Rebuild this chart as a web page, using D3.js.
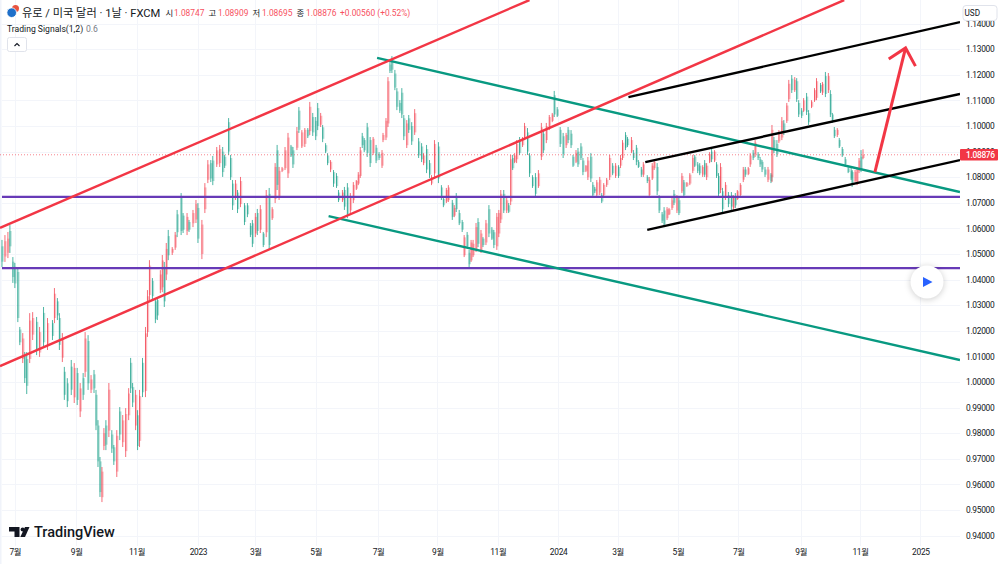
<!DOCTYPE html>
<html>
    <head>
        <title>EUR/USD 1D</title>
        <script src="https://d3js.org/d3.v7.min.js"></script>
        <style>
            * {
                font-family: 'Roboto', 'Noto Sans CJK KR', sans-serif;
            }
            body {
                margin: 0;
                overflow: hidden;
                background: #ffffff;
            }
            svg {
                display: block;
            }
            .axis path,
            .axis line {
                display: none;
            }
            .axis text {
                fill: #131722;
                font-size: 8.4px;
                letter-spacing: -0.3px;
            }
        </style>
    </head>
    <body>
        <script>
            // days since 2022-06-16, one entry per candle
            const barDays = [
                2,5,8,10,13,15,18,20,23,25,
                27,30,33,37,40,44,48,53,55,58,
                60,63,65,68,72,75,78,81,84,86,
                89,92,95,97,99,101,103,105,107,110,
                113,115,118,121,124,127,130,132,134,137,
                139,141,144,147,149,151,154,157,159,162,
                164,166,168,170,174,177,179,183,185,189,
                191,195,198,200,204,207,210,213,215,219,
                222,225,227,231,233,235,238,240,243,247,
                250,253,255,258,260,263,266,269,272,275,
                278,280,282,285,288,291,294,296,300,302,
                305,308,311,313,316,319,321,324,326,329,
                331,334,337,340,342,346,348,351,354,357,
                360,362,364,366,368,371,374,377,380,383,
                386,387,390,392,394,396,399,401,404,406,
                408,411,413,416,419,423,426,428,431,434,
                436,439,443,446,448,451,453,457,459,461,
                464,467,469,472,474,476,478,481,483,486,
                488,491,494,497,499,502,504,506,509,512,
                514,516,518,520,522,525,528,530,533,535,
                538,541,544,547,549,552,555,558,560,563,
                566,569,572,574,577,579,582,584,587,589,
                592,594,597,599,601,603,606,608,610,613,
                616,619,622,625,627,629,632,634,638,640,
                643,645,648,650,654,656,659,661,664,666,
                669,671,674,676,679,681,684,686,689,691,
                694,697,700,702,705,707,710,712,714,717,
                719,722,724,726,728,730,733,736,739,741,
                743,745,748,751,753,756,758,761,763,766,
                768,770,773,776,779,780,782,785,787,790,
                792,795,797,800,803,805,807,810,812,815,
                817,820,823,825,829,831,834,837,839,841,
                843,846,848,851,854,857,860,861,864,866,
                868,870,872
            ];
            // prices in pips (1.0555 = 10555)
            const highs = [
                10555,10574,10586,10613,10488,10465,10445,10215,10191,10117,
                10117,10269,10273,10254,10215,10293,10250,10242,10367,10328,
                10269,10191,10059,10015,10086,10074,10055,9996,10035,10195,
                10183,10027,10047,9969,9851,9707,9668,9820,9851,9996,
                9812,9754,9812,9902,9871,9898,9976,10094,9996,9969,
                9890,9969,10094,10215,10359,10476,10406,10328,10332,10437,
                10496,10469,10543,10594,10527,10586,10672,10738,10660,10660,
                10633,10672,10711,10699,10633,10777,10867,10867,10883,10918,
                10926,10918,10887,11031,10887,10789,10789,10750,10801,10699,
                10699,10621,10633,10660,10676,10691,10586,10750,10758,10683,
                10855,10926,10840,10840,10918,10973,10926,10918,10996,11074,
                10984,10992,10992,11094,11051,11035,11090,11051,11004,10933,
                10894,10867,10828,10816,10750,10750,10762,10777,10738,10781,
                10789,10820,10918,10973,10953,11012,10957,10957,10926,10898,
                10906,10973,11031,11191,11250,11273,11219,11148,11101,11148,
                11043,11023,11043,11015,11066,10953,10933,10894,10926,10867,
                10808,10945,10937,10769,10722,10758,10769,10711,10691,10738,
                10672,10633,10574,10586,10516,10555,10555,10621,10640,10594,
                10566,10633,10691,10605,10594,10660,10672,10750,10750,10722,
                10699,10887,10887,10894,10945,10957,10957,11012,10992,10894,
                10808,10816,10828,11012,10984,11012,11043,11051,11137,11074,
                10996,10973,10973,10996,10984,10887,10906,10914,10933,10875,
                10847,10879,10894,10781,10762,10789,10801,10738,10777,10797,
                10887,10855,10855,10847,10887,10945,10976,10957,10957,10906,
                10926,10867,10840,10859,10808,10801,10855,10867,10855,10730,
                10664,10683,10683,10680,10722,10750,10730,10722,10816,10789,
                10781,10816,10887,10887,10859,10855,10847,10867,10855,10898,
                10914,10906,10859,10816,10855,10758,10781,10742,10742,10730,
                10738,10750,10777,10840,10840,10840,10894,10906,10945,10898,
                10879,10867,10840,10840,10816,11004,10957,10945,10984,11035,
                11023,11090,11180,11199,11191,11187,11101,11070,11109,11129,
                11062,11101,11148,11187,11168,11172,11211,11207,11140,11051,
                10996,10992,10953,10918,10879,10840,10836,10828,10828,10840,
                10875,10906,10909
            ];
            const lows = [
                10449,10469,10484,10504,10387,10367,10234,10144,10074,9996,
                9953,10074,10164,10105,10098,10133,10125,10164,10230,10242,
                10125,10078,9930,9902,9949,9918,9910,9863,9930,10019,
                9969,9957,9957,9812,9668,9551,9531,9734,9734,9785,
                9723,9676,9629,9773,9746,9707,9851,9957,9902,9812,
                9734,9746,9941,9941,10176,10320,10320,10230,10242,10347,
                10351,10293,10398,10476,10496,10516,10566,10574,10582,10574,
                10586,10605,10621,10543,10480,10660,10777,10781,10769,10840,
                10840,10801,10836,10887,10789,10672,10711,10660,10683,10613,
                10644,10566,10527,10566,10574,10582,10527,10566,10516,10633,
                10699,10750,10711,10820,10828,10797,10879,10836,10906,10973,
                10914,10918,10953,10965,10961,10945,10984,10996,10937,10894,
                10847,10820,10762,10758,10703,10703,10672,10640,10660,10699,
                10750,10769,10797,10914,10898,10879,10840,10887,10855,10867,
                10836,10937,10945,10996,11207,11207,11140,11062,11051,11031,
                10945,10914,10973,10926,10965,10875,10859,10847,10816,10797,
                10769,10797,10777,10711,10683,10699,10703,10633,10644,10664,
                10613,10586,10488,10523,10449,10469,10488,10508,10527,10504,
                10527,10535,10566,10555,10523,10516,10566,10621,10660,10660,
                10660,10691,10828,10855,10855,10887,10918,10945,10887,10801,
                10758,10722,10758,10867,10894,10933,10984,11015,11035,11035,
                10918,10875,10914,10933,10914,10840,10855,10840,10867,10808,
                10820,10789,10781,10722,10738,10722,10730,10699,10722,10762,
                10789,10808,10797,10797,10836,10867,10906,10918,10894,10867,
                10847,10836,10801,10801,10777,10722,10789,10828,10730,10660,
                10621,10605,10633,10652,10672,10691,10660,10652,10738,10722,
                10762,10769,10816,10840,10816,10808,10801,10801,10789,10855,
                10859,10859,10797,10722,10738,10664,10711,10683,10672,10672,
                10680,10711,10722,10781,10801,10808,10840,10867,10879,10867,
                10840,10820,10801,10781,10777,10781,10894,10879,10933,10945,
                10965,11012,11094,11129,11133,11094,11035,11031,11055,11043,
                11004,11070,11094,11101,11129,11121,11113,11129,11035,11012,
                10953,10957,10914,10879,10840,10816,10789,10762,10781,10769,
                10816,10820,10870
            ];
            const opens = [
                10530,10490,10505,10590,10470,10450,10430,10205,10090,10100,
                10090,10090,10185,10235,10115,10270,10145,10230,10250,10315,
                10250,10095,10040,9995,10060,9940,10035,9885,10015,10040,
                10160,9970,10030,9950,9830,9690,9550,9750,9830,9810,
                9795,9745,9650,9885,9765,9730,9870,10075,9980,9830,
                9870,9770,10075,9965,10195,10340,10395,10315,10320,10360,
                10370,10450,10420,10570,10505,10525,10655,10725,10650,10590,
                10625,10620,10635,10680,10500,10675,10790,10855,10865,10850,
                10855,10900,10880,11015,10875,10775,10720,10740,10695,10690,
                10690,10610,10620,10580,10660,10595,10580,10585,10735,10640,
                10715,10905,10725,10825,10835,10815,10920,10905,10915,11060,
                10920,10930,10985,10980,11035,11020,11070,11005,10995,10925,
                10885,10830,10820,10805,10740,10710,10750,10760,10670,10710,
                10755,10775,10805,10960,10945,10995,10945,10895,10915,10890,
                10845,10945,10955,11010,11240,11255,11205,11135,11090,11130,
                11030,10925,11030,11000,10975,10940,10920,10855,10910,10855,
                10775,10815,10920,10760,10715,10705,10710,10700,10650,10725,
                10660,10625,10495,10575,10505,10475,10495,10520,10625,10515,
                10560,10545,10675,10595,10585,10530,10580,10635,10735,10670,
                10690,10705,10875,10860,10870,10945,10925,10955,10975,10885,
                10800,10800,10765,10880,10970,10945,10990,11020,11120,11065,
                10985,10960,10925,10985,10970,10880,10860,10900,10920,10865,
                10825,10800,10880,10770,10755,10730,10740,10730,10730,10770,
                10800,10845,10805,10840,10845,10875,10965,10950,10900,10895,
                10915,10860,10830,10810,10800,10730,10795,10835,10840,10720,
                10655,10670,10640,10655,10680,10735,10670,10710,10745,10780,
                10765,10775,10825,10880,10850,10845,10810,10855,10800,10860,
                10900,10865,10850,10805,10750,10745,10720,10730,10730,10680,
                10725,10715,10730,10790,10830,10812,10850,10895,10890,10890,
                10870,10860,10830,10790,10810,10800,10945,10930,10940,10955,
                11010,11020,11105,11185,11140,11175,11090,11060,11060,11115,
                11050,11075,11100,11110,11160,11130,11195,11140,11125,11045,
                10985,10965,10945,10910,10870,10835,10825,10820,10785,10775,
                10825,10880,10875
            ];
            const closes = [
                10470,10550,10560,10530,10410,10385,10250,10155,10170,10015,
                9985,10240,10250,10125,10195,10155,10230,10180,10345,10260,
                10145,10170,9950,9925,9970,10055,9930,9975,9950,10170,
                9995,10010,9975,9830,9690,9570,9650,9800,9755,9970,
                9740,9690,9790,9795,9850,9875,9955,9975,9920,9950,
                9750,9945,9960,10190,10335,10455,10335,10245,10260,10420,
                10475,10315,10520,10495,10520,10575,10585,10590,10595,10645,
                10595,10660,10695,10560,10615,10760,10850,10795,10785,10905,
                10910,10820,10845,10900,10800,10690,10775,10675,10785,10625,
                10655,10575,10540,10645,10590,10675,10535,10730,10535,10675,
                10840,10770,10825,10835,10905,10955,10885,10850,10980,10985,
                10975,10985,10960,11075,10975,10960,11000,11040,10950,10900,
                10855,10860,10775,10765,10710,10740,10685,10655,10725,10770,
                10785,10810,10905,10925,10905,10895,10855,10950,10865,10875,
                10895,10965,11020,11175,11215,11220,11150,11075,11060,11045,
                10960,11010,10985,10940,11050,10885,10870,10885,10830,10810,
                10800,10930,10795,10720,10690,10750,10760,10645,10680,10675,
                10620,10595,10565,10530,10460,10545,10540,10605,10540,10580,
                10535,10620,10580,10560,10535,10645,10660,10735,10670,10710,
                10665,10870,10835,10885,10930,10895,10950,11000,10900,10815,
                10765,10735,10815,10995,10905,11000,11035,11045,11045,11040,
                10930,10890,10965,10945,10925,10845,10895,10850,10875,10820,
                10845,10865,10795,10730,10745,10780,10790,10705,10770,10790,
                10875,10815,10845,10805,10875,10935,10915,10925,10945,10875,
                10860,10840,10810,10850,10785,10790,10845,10860,10745,10670,
                10630,10615,10675,10675,10710,10700,10720,10660,10805,10730,
                10778,10810,10875,10845,10825,10815,10840,10810,10845,10890,
                10870,10900,10805,10735,10840,10675,10770,10695,10685,10720,
                10690,10745,10770,10830,10810,10835,10885,10875,10935,10875,
                10850,10830,10810,10830,10785,10985,10905,10890,10975,11020,
                10975,11080,11165,11140,11180,11105,11045,11040,11100,11055,
                11015,11095,11140,11175,11135,11165,11125,11195,11045,11020,
                10960,10985,10920,10885,10850,10820,10795,10770,10820,10830,
                10865,10830,10888
            ];

            // drawings: [startDay, startPrice, endDay, endPrice]
            const redChannel = [
                [0, 1.0602, 535, 1.1492],
                [0, 1.0062, 853, 1.1492],
            ];
            const greenChannel = [
                [381, 1.1266, 970, 1.0742],
                [332, 1.0648, 970, 1.0086],
            ];
            const blackChannel = [
                [635, 1.1113, 970, 1.1406],
                [652, 1.0859, 970, 1.1125],
                [654, 1.0594, 970, 1.0867],
            ];
            const purpleLevels = [
                [2, 1.0723, 970, 1.0723],
                [2, 1.0445, 970, 1.0445],
            ];
            const arrowPoints = [
                [898, 1.1262],
                [915, 1.1305],
                [925, 1.1234],
            ];
            const arrowTail = [884, 1.082];

            const priceTicks = [
                0.94, 0.95, 0.96, 0.97, 0.98, 0.99, 1.0, 1.01, 1.02, 1.03, 1.04, 1.05, 1.06, 1.07, 1.08, 1.09, 1.1, 1.11, 1.12, 1.13, 1.14,
            ];
            const timeTicks = [
                new Date(2022, 6, 1),
                new Date(2022, 8, 1),
                new Date(2022, 10, 1),
                new Date(2023, 0, 2),
                new Date(2023, 2, 1),
                new Date(2023, 4, 1),
                new Date(2023, 6, 3),
                new Date(2023, 8, 1),
                new Date(2023, 10, 1),
                new Date(2024, 0, 1),
                new Date(2024, 2, 1),
                new Date(2024, 4, 1),
                new Date(2024, 6, 1),
                new Date(2024, 8, 2),
                new Date(2024, 10, 1),
                new Date(2025, 0, 1),
            ];
            const timeLabels = ['7월', '9월', '11월', '2023', '3월', '5월', '7월', '9월', '11월', '2024', '3월', '5월', '7월', '9월', '11월', '2025'];
            const lastPrice = 1.08876;

            const upColor = '#f23645';
            const downColor = '#089981';
            const startDate = new Date(2022, 5, 16);
            const plotRight = 960;
            const plotBottom = 546;

            const dayToDate = (d) => d3.timeDay.offset(startDate, d);
            const x = d3.scaleTime().domain([startDate, dayToDate(970)]).range([0, plotRight]);
            const y = d3.scaleLinear().domain([0.94, 1.14]).range([535.6, 23.6]);
            const xd = (d) => x(dayToDate(d));

            const bars = barDays.map((day, i) => ({
                day,
                high: highs[i] / 10000,
                low: lows[i] / 10000,
                open: opens[i] / 10000,
                close: closes[i] / 10000,
            }));

            const svg = d3.select('body').append('svg').attr('width', 1000).attr('height', 564);
            svg.append('defs').append('clipPath').attr('id', 'plot').append('rect').attr('width', plotRight).attr('height', plotBottom);

            svg.append('rect').attr('width', 1.5).attr('height', 564).attr('fill', '#f0f3fa');

            // grid
            const grid = svg.append('g').attr('stroke', '#f3f5fa').attr('stroke-width', 1);
            grid.selectAll('.h')
                .data(priceTicks)
                .enter()
                .append('line')
                .attr('x1', 2)
                .attr('x2', plotRight)
                .attr('y1', (d) => Math.round(y(d)) + 0.5)
                .attr('y2', (d) => Math.round(y(d)) + 0.5);
            grid.selectAll('.v')
                .data(timeTicks)
                .enter()
                .append('line')
                .attr('x1', (d) => Math.round(x(d)) + 0.5)
                .attr('x2', (d) => Math.round(x(d)) + 0.5)
                .attr('y1', 0)
                .attr('y2', plotBottom);

            const plot = svg.append('g').attr('clip-path', 'url(#plot)');

            // candles
            const candle = plot.selectAll('.candle').data(bars).enter().append('g').attr('class', 'candle');
            const barColor = (d) => (d.close >= d.open ? upColor : downColor);
            candle
                .append('rect')
                .attr('x', (d) => xd(d.day) - 0.5)
                .attr('width', 2.2)
                .attr('y', (d) => y(Math.max(d.open, d.close)))
                .attr('height', (d) => Math.max(1, Math.abs(y(d.open) - y(d.close))))
                .attr('fill', barColor)
                .attr('opacity', 0.32);
            candle
                .append('line')
                .attr('x1', (d) => xd(d.day))
                .attr('x2', (d) => xd(d.day))
                .attr('y1', (d) => y(d.high))
                .attr('y2', (d) => y(d.low))
                .attr('stroke', barColor)
                .attr('stroke-width', 1)
                .attr('opacity', 0.72);

            // last price line
            plot.append('line')
                .attr('x1', 0)
                .attr('x2', plotRight)
                .attr('y1', y(lastPrice))
                .attr('y2', y(lastPrice))
                .attr('stroke', upColor)
                .attr('stroke-width', 1)
                .attr('stroke-dasharray', '1 2')
                .attr('opacity', 0.6);

            // drawings
            function drawSegments(data, color) {
                plot.selectAll(null)
                    .data(data)
                    .enter()
                    .append('line')
                    .attr('x1', (d) => xd(d[0]))
                    .attr('y1', (d) => y(d[1]))
                    .attr('x2', (d) => xd(d[2]))
                    .attr('y2', (d) => y(d[3]))
                    .attr('stroke', color)
                    .attr('stroke-width', 2.4);
            }
            drawSegments(purpleLevels, '#673ab7');
            drawSegments(greenChannel, '#089981');
            drawSegments(redChannel, '#f23645');
            drawSegments(blackChannel, '#000000');

            const arrowLine = d3
                .line()
                .x((d) => xd(d[0]))
                .y((d) => y(d[1]));
            plot.append('path')
                .attr('d', arrowLine([arrowTail, arrowPoints[1]]))
                .attr('fill', 'none')
                .attr('stroke', '#f23645')
                .attr('stroke-width', 3);
            plot.append('path')
                .attr('d', arrowLine(arrowPoints))
                .attr('fill', 'none')
                .attr('stroke', '#f23645')
                .attr('stroke-width', 3);

            // axes
            svg.append('rect').attr('x', plotRight).attr('width', 40).attr('height', 564).attr('fill', '#ffffff');
            svg.append('g')
                .attr('class', 'axis')
                .attr('transform', `translate(${plotRight},0)`)
                .call(d3.axisRight(y).tickValues(priceTicks).tickFormat(d3.format('.5f')).tickSize(0).tickPadding(6))
                .call((g) => g.select('.domain').remove());
            svg.append('g')
                .attr('class', 'axis')
                .attr('transform', 'translate(0,546)')
                .call(
                    d3
                        .axisBottom(x)
                        .tickValues(timeTicks)
                        .tickFormat((d, i) => timeLabels[i])
                        .tickSize(0)
                        .tickPadding(3)
                )
                .call((g) => g.select('.domain').remove());

            // last price label
            svg.append('rect').attr('x', plotRight).attr('y', y(lastPrice) - 5.7).attr('width', 38).attr('height', 11.4).attr('rx', 1).attr('fill', '#f23645');
            svg.append('text')
                .attr('x', 966)
                .attr('y', y(lastPrice) + 3)
                .attr('fill', '#ffffff')
                .attr('font-size', 8.4)
                .attr('letter-spacing', '-0.3px')
                .attr('font-weight', 500)
                .text(d3.format('.5f')(lastPrice));

            // currency box
            svg.append('rect').attr('x', 963).attr('y', 5.5).attr('width', 34).attr('height', 15).attr('rx', 3).attr('fill', '#ffffff').attr('stroke', '#e0e3eb');
            svg.append('text').attr('x', 964.5).attr('y', 15.5).attr('fill', '#131722').attr('font-size', 8.2).text('USD');

            // header
            function headerText(px, py, text, color, size, weight) {
                svg.append('text')
                    .attr('x', px)
                    .attr('y', py)
                    .attr('fill', color)
                    .attr('font-size', size)
                    .attr('font-weight', weight || 400)
                    .text(text);
            }
            svg.append('circle').attr('cx', 15.5).attr('cy', 8.5).attr('r', 3.5).attr('fill', '#e8533f');
            svg.append('circle').attr('cx', 11.7).attr('cy', 12.7).attr('r', 4.8).attr('fill', '#1e6fc9').attr('stroke', '#ffffff').attr('stroke-width', 0.8);
            headerText(22, 16.5, '유로 / 미국 달러 · 1날 · FXCM', '#131722', 11.2);
            const quoteColor = '#f7525f';
            headerText(165.5, 16, '시', '#131722', 8.4);
            headerText(174, 16, '1.08747', quoteColor, 8.4);
            headerText(208.5, 16, '고', '#131722', 8.4);
            headerText(218, 16, '1.08909', quoteColor, 8.4);
            headerText(252.5, 16, '저', '#131722', 8.4);
            headerText(262, 16, '1.08695', quoteColor, 8.4);
            headerText(296.5, 16, '종', '#131722', 8.4);
            headerText(306, 16, '1.08876', quoteColor, 8.4);
            headerText(340, 16, '+0.00560 (+0.52%)', quoteColor, 8.4);
            headerText(7, 31.5, 'Trading Signals(1,2)', '#131722', 8.6);
            headerText(86, 31.5, '0.6', '#787b86', 8.6);

            svg.append('rect').attr('x', 7.5).attr('y', 37.5).attr('width', 19).attr('height', 14).attr('rx', 2).attr('fill', '#ffffff').attr('stroke', '#e0e3eb');
            svg.append('path').attr('d', 'M14.5 46 L17 43.5 L19.5 46').attr('fill', 'none').attr('stroke', '#131722').attr('stroke-width', 1.1);

            // logo
            svg.append('path').attr('d', 'M9 527 H19.5 V537 H14.5 V531.5 H9 Z').attr('fill', '#131722');
            svg.append('circle').attr('cx', 22.7).attr('cy', 529.5).attr('r', 2.1).attr('fill', '#131722');
            svg.append('path').attr('d', 'M25 527 H29.5 L25 537 H20.3 Z').attr('fill', '#131722');
            headerText(34, 537, 'TradingView', '#131722', 14.5, 500);

            // play button
            svg.append('circle')
                .attr('cx', 927)
                .attr('cy', 282)
                .attr('r', 16.5)
                .attr('fill', '#ffffff')
                .style('filter', 'drop-shadow(0 1px 3px rgba(0,0,0,0.2))');
            svg.append('path').attr('d', 'M923 277 L932.5 282 L923 287 Z').attr('fill', '#2962ff');
        </script>
    </body>
</html>
